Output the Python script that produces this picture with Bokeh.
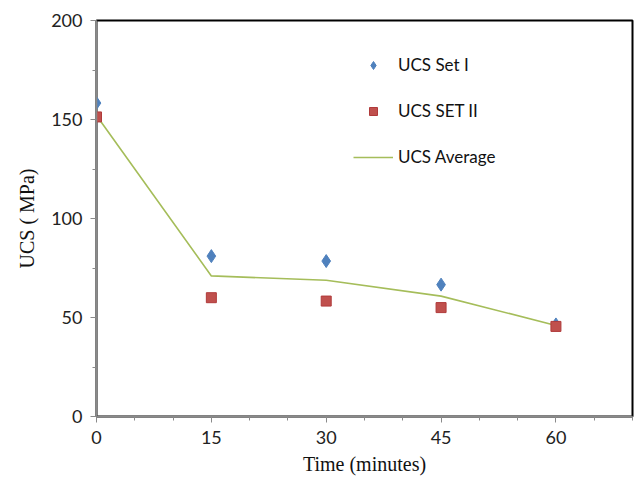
from bokeh.plotting import figure
from bokeh.models import Range1d, FixedTicker, Legend, LegendItem
from bokeh.embed import file_html
from bokeh.resources import INLINE

time_min = [0, 15, 30, 45, 60]
ucs_set1 = [158.3, 81.0, 78.5, 66.6, 46.5]
ucs_set2 = [151.3, 60.0, 58.3, 55.0, 45.5]
ucs_avg = [152.0, 71.0, 68.8, 60.8, 46.0]

x_ticks = [0, 15, 30, 45, 60]
y_ticks = [0, 50, 100, 150, 200]

p = figure(width=636, height=484, output_backend="svg", toolbar_location=None,
           x_range=Range1d(0, 70), y_range=Range1d(0, 200),
           min_border_left=96, min_border_right=4, min_border_top=20, min_border_bottom=68)
p.background_fill_color = "white"
p.border_fill_color = "white"
p.grid.visible = False
p.outline_line_color = "black"
p.outline_line_width = 2

avg_r = p.line(time_min, ucs_avg, line_color="#a5bd5a", line_width=1.6)
s1_r = p.scatter(time_min, ucs_set1, marker="diamond", size=13, fill_color="#4f81bd", line_color="#4f81bd")
s2_r = p.scatter(time_min, ucs_set2, marker="square", size=10, fill_color="#c0504d", line_color="#b03a3a")

for ax in (p.xaxis[0], p.yaxis[0]):
    ax.axis_line_color = "#8a8a8a"
    ax.axis_line_width = 1.5
    ax.major_tick_line_color = "#8a8a8a"
    ax.minor_tick_line_color = "#8a8a8a"
    ax.major_tick_in = 0
    ax.major_tick_out = 6
    ax.minor_tick_in = 0
    ax.minor_tick_out = 4
    ax.major_label_text_font = "Lato"
    ax.major_label_text_font_size = "18px"
    ax.major_label_text_color = "#222222"
    ax.axis_label_text_font = "Liberation Serif"
    ax.axis_label_text_font_size = "20px"
    ax.axis_label_text_font_style = "normal"
    ax.axis_label_text_color = "#111111"

p.xaxis.ticker = FixedTicker(ticks=x_ticks, minor_ticks=[5, 10, 20, 25, 35, 40, 50, 55, 65, 70])
p.yaxis.ticker = FixedTicker(ticks=y_ticks, minor_ticks=[25, 75, 125, 175])
p.xaxis.axis_label = "Time (minutes)"
p.yaxis.axis_label = "UCS ( MPa)"
p.xaxis.major_label_standoff = 8
p.xaxis.axis_label_standoff = 6
p.yaxis.major_label_standoff = 8
p.yaxis.axis_label_standoff = 10

legend = Legend(items=[
    LegendItem(label="UCS Set I", renderers=[s1_r]),
    LegendItem(label="UCS SET II", renderers=[s2_r]),
    LegendItem(label="UCS Average", renderers=[avg_r]),
], location=(257, 249))
legend.border_line_color = None
legend.background_fill_alpha = 0
legend.padding = 0
legend.margin = 0
legend.glyph_width = 40
legend.glyph_height = 20
legend.spacing = 25
legend.label_standoff = 5
legend.label_text_font = "Lato"
legend.label_text_font_size = "17px"
legend.label_text_color = "#111111"
p.add_layout(legend, "center")

open("out.html", "w").write(file_html(p, INLINE))
